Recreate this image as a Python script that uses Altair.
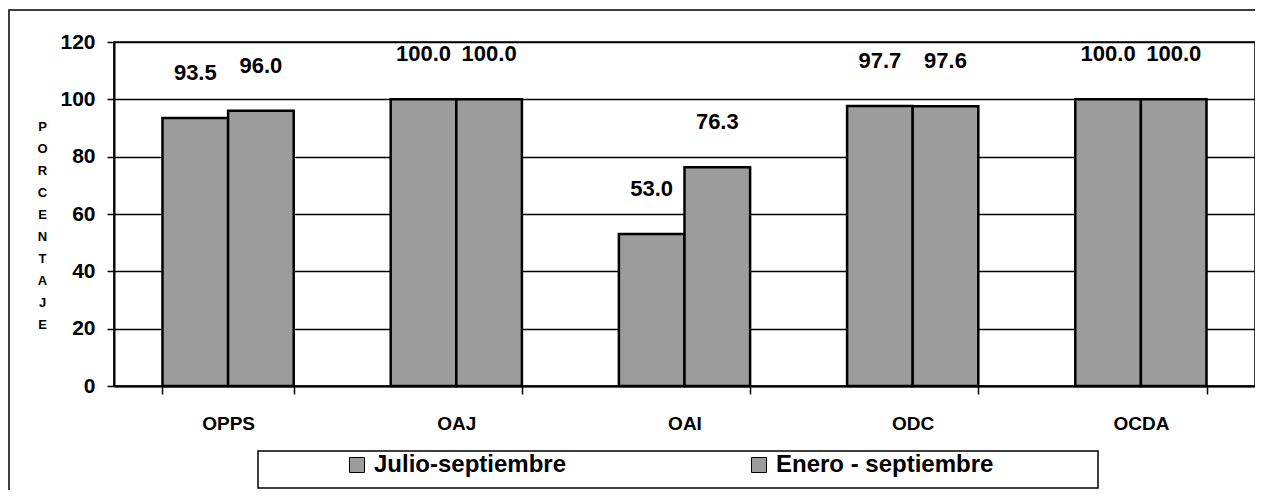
import altair as alt
import pandas as pd

categories = ["OPPS", "OAJ", "OAI", "ODC", "OCDA"]
series = ["Julio-septiembre", "Enero - septiembre"]
julio_sep = [93.5, 100.0, 53.0, 97.7, 100.0]
enero_sep = [96.0, 100.0, 76.3, 97.6, 100.0]
y_ticks = [0, 20, 40, 60, 80, 100, 120]

rows = []
for i, c in enumerate(categories):
    rows.append({"cat": c, "serie": series[0], "valor": julio_sep[i]})
    rows.append({"cat": c, "serie": series[1], "valor": enero_sep[i]})
df = pd.DataFrame(rows)
df["etiqueta"] = df["valor"].map(lambda v: f"{v:.1f}")

W, H = 1141, 344
FONT = "Liberation Sans"
GRAY = "#9c9c9c"

x = alt.X(
    "cat:N", sort=categories, title=None,
    scale=alt.Scale(paddingInner=0.425, paddingOuter=0.2125),
    axis=alt.Axis(tickBand="extent", labelAngle=0, labelFont=FONT, labelFontSize=19,
                  labelFontWeight="bold", labelColor="black", labelPadding=20,
                  tickSize=8, tickColor="black", tickWidth=1.5,
                  domainColor="black", domainWidth=2, grid=False),
)
y = alt.Y(
    "valor:Q",
    scale=alt.Scale(domain=[0, 120], nice=False),
    axis=alt.Axis(values=y_ticks, title=list("PORCENTAJE"), titleAngle=0,
                  titleX=-72, titleY=84, titleAlign="center", titleBaseline="middle",
                  titleLineHeight=22, titleFont=FONT, titleFontSize=13,
                  titleFontWeight="bold", titleColor="black",
                  labelFont=FONT, labelFontSize=21, labelFontWeight="bold",
                  labelColor="black", labelPadding=12,
                  tickSize=7, tickColor="black", tickWidth=1.5,
                  domainColor="black", domainWidth=2,
                  grid=True, gridColor="black", gridWidth=1.6),
)
xoff = alt.XOffset("serie:N", sort=series)

base = alt.Chart(df)

bars = base.mark_bar(stroke="black", strokeWidth=2.5).encode(
    x=x, xOffset=xoff, y=y,
    color=alt.Color(
        "serie:N", sort=series,
        scale=alt.Scale(domain=series, range=[GRAY, GRAY]),
        legend=alt.Legend(orient="none", legendX=231, legendY=411,
                          direction="horizontal", columns=2, title=None,
                          labelFont=FONT, labelFontSize=24, labelFontWeight="bold",
                          labelColor="black", symbolType="square", symbolSize=225,
                          symbolStrokeColor="black", symbolStrokeWidth=1,
                          labelOffset=5, columnPadding=180, padding=0, labelLimit=400),
    ),
)

labels = base.mark_text(dy=-45, fontSize=22, fontWeight="bold", font=FONT,
                        color="black", baseline="middle").encode(
    x=x, xOffset=xoff, y=y, text="etiqueta:N"
)

one = pd.DataFrame({"k": [0]})
frame = alt.Chart(one).mark_rect(fill="transparent", stroke="black", strokeWidth=1.5).encode(
    x=alt.value(-105), x2=alt.value(W + 20), y=alt.value(-32), y2=alt.value(H + 130)
)
legend_box = alt.Chart(one).mark_rect(fill="transparent", stroke="black", strokeWidth=1.5).encode(
    x=alt.value(144), x2=alt.value(984), y=alt.value(409), y2=alt.value(446)
)

chart = alt.layer(frame, legend_box, bars, labels).properties(
    width=W, height=H,
    padding={"left": 106, "top": 34, "right": 0, "bottom": 104},
    autosize=alt.AutoSizeParams(type="none"),
    background="white",
).configure_view(stroke="black", strokeWidth=1.5)

chart.save("out.html", embed_options={"renderer": "svg", "actions": False})
